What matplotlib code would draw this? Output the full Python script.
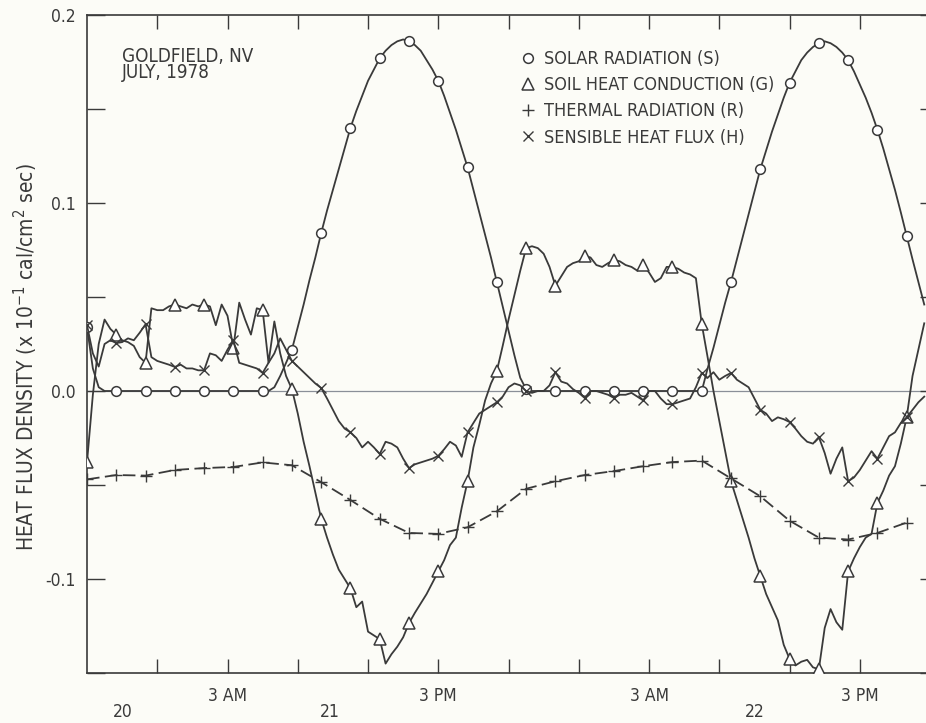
import numpy as np
import matplotlib
matplotlib.use("Agg")
import matplotlib.pyplot as plt
from matplotlib.transforms import blended_transform_factory
from matplotlib.lines import Line2D

plt.rcParams['font.family'] = ['DejaVu Sans']
plt.rcParams['font.stretch'] = 'condensed'
plt.rcParams['mathtext.default'] = 'regular'

# ---- data: hours since midnight of July 21, sampled every 20 minutes ----
t_start = -5.0
step_h = 1.0 / 3.0

solar = [0.034, 0.012, 0.002, 0.0, 0.0, 0.0, 0.0, 0.0, 0.0, 0.0,
         0.0, 0.0, 0.0, 0.0, 0.0, 0.0, 0.0, 0.0, 0.0, 0.0,
         0.0, 0.0, 0.0, 0.0, 0.0, 0.0, 0.0, 0.0, 0.0, 0.0,
         0.0, 0.0, 0.002, 0.008, 0.015, 0.022, 0.034, 0.046, 0.059, 0.071,
         0.084, 0.096, 0.107, 0.118, 0.129, 0.140, 0.149, 0.157, 0.165, 0.171,
         0.177, 0.181, 0.184, 0.186, 0.187, 0.186, 0.184, 0.181, 0.176, 0.171,
         0.165, 0.157, 0.148, 0.139, 0.129, 0.119, 0.107, 0.095, 0.083, 0.071,
         0.058, 0.045, 0.032, 0.019, 0.007, 0.001, 0.0, 0.0, 0.0, 0.0,
         0.0, 0.0, 0.0, 0.0, 0.0, 0.0, 0.0, 0.0, 0.0, 0.0,
         0.0, 0.0, 0.0, 0.0, 0.0, 0.0, 0.0, 0.0, 0.0, 0.0,
         0.0, 0.0, 0.0, 0.0, 0.0, 0.0, 0.012, 0.023, 0.035, 0.047,
         0.058, 0.070, 0.082, 0.094, 0.106, 0.118, 0.128, 0.138, 0.147, 0.156,
         0.164, 0.170, 0.176, 0.180, 0.183, 0.185, 0.186, 0.185, 0.183, 0.180,
         0.176, 0.170, 0.163, 0.156, 0.148, 0.139, 0.129, 0.118, 0.107, 0.095,
         0.0825, 0.070, 0.058, 0.046]

soil = [-0.038, -0.002, 0.025, 0.038, 0.033, 0.030, 0.027, 0.026, 0.024, 0.018,
        0.015, 0.044, 0.043, 0.043, 0.045, 0.046, 0.045, 0.044, 0.046, 0.045,
        0.046, 0.045, 0.035, 0.046, 0.040, 0.023, 0.047, 0.038, 0.030, 0.044,
        0.043, 0.015, 0.037, 0.020, 0.008, 0.001, -0.012, -0.027, -0.040, -0.054,
        -0.068, -0.078, -0.087, -0.095, -0.100, -0.105, -0.115, -0.112, -0.128, -0.130,
        -0.132, -0.145, -0.140, -0.136, -0.131, -0.1235, -0.118, -0.113, -0.108, -0.102,
        -0.096, -0.090, -0.082, -0.078, -0.062, -0.048, -0.030, -0.018, -0.005, 0.004,
        0.0106, 0.024, 0.038, 0.051, 0.064, 0.076, 0.077, 0.076, 0.073, 0.066,
        0.056, 0.061, 0.066, 0.068, 0.069, 0.072, 0.071, 0.067, 0.066, 0.068,
        0.0697, 0.069, 0.067, 0.066, 0.064, 0.067, 0.063, 0.058, 0.060, 0.066,
        0.066, 0.065, 0.063, 0.062, 0.060, 0.0356, 0.018, 0.0, -0.016, -0.032,
        -0.048, -0.058, -0.068, -0.078, -0.089, -0.0985, -0.108, -0.115, -0.122, -0.135,
        -0.1425, -0.146, -0.144, -0.143, -0.147, -0.148, -0.126, -0.116, -0.123, -0.127,
        -0.096, -0.089, -0.083, -0.078, -0.076, -0.0596, -0.053, -0.045, -0.040, -0.028,
        -0.014, 0.008, 0.022, 0.036]

sensible = [0.035, 0.020, 0.013, 0.025, 0.027, 0.0255, 0.026, 0.028, 0.027, 0.031,
            0.0355, 0.018, 0.016, 0.015, 0.014, 0.0128, 0.014, 0.012, 0.012, 0.011,
            0.011, 0.020, 0.019, 0.016, 0.022, 0.027, 0.015, 0.014, 0.013, 0.012,
            0.0096, 0.015, 0.020, 0.028, 0.022, 0.016, 0.013, 0.010, 0.007, 0.004,
            0.0016, -0.004, -0.010, -0.016, -0.020, -0.022, -0.025, -0.030, -0.027, -0.030,
            -0.0335, -0.027, -0.028, -0.030, -0.036, -0.041, -0.039, -0.038, -0.037, -0.036,
            -0.0345, -0.031, -0.027, -0.029, -0.035, -0.022, -0.017, -0.012, -0.010, -0.008,
            -0.006, -0.003, 0.002, 0.004, 0.003, 0.0, -0.001, 0.0, 0.0, 0.003,
            0.010, 0.005, 0.004, 0.001, -0.001, -0.0037, 0.0, 0.0, -0.001, -0.002,
            -0.0037, -0.002, -0.002, -0.001, -0.003, -0.005, 0.0, 0.0, -0.004, -0.007,
            -0.007, -0.006, -0.005, -0.004, 0.002, 0.0096, 0.007, 0.010, 0.006, 0.008,
            0.0096, 0.006, 0.004, 0.002, -0.004, -0.010, -0.012, -0.016, -0.014, -0.015,
            -0.0165, -0.020, -0.024, -0.027, -0.028, -0.0245, -0.033, -0.044, -0.036, -0.030,
            -0.048, -0.046, -0.042, -0.037, -0.032, -0.036, -0.030, -0.024, -0.022, -0.017,
            -0.014, -0.010, -0.006, -0.003]

# thermal radiation read at the marker times (every 100 minutes)
thermal_step_h = 5.0 / 3.0
thermal = [-0.047, -0.0447, -0.045, -0.042, -0.041, -0.0404, -0.038, -0.0395, -0.0485, -0.058,
           -0.068, -0.0755, -0.076, -0.0725, -0.064, -0.052, -0.048, -0.0447, -0.0426, -0.040,
           -0.0378, -0.037, -0.0465, -0.056, -0.069, -0.078, -0.079, -0.0755, -0.070]

tick_hours = [-1, 3, 7, 11, 15, 19, 23, 27, 31, 35, 39, 43]
tick_labels = ['', '3 AM', '', '', '3 PM', '', '', '3 AM', '', '', '3 PM', '']
day_labels = ['20', '21', '22']
day_hours = [-2.95, 8.8, 33.0]

legend_labels = ['SOLAR RADIATION (S)', 'SOIL HEAT CONDUCTION (G)',
                 'THERMAL RADIATION (R)', 'SENSIBLE HEAT FLUX (H)']

# ---- figure ----
bg = '#fcfcf7'
ink = '#3a3a3a'
fs = 12.5
fig = plt.figure(figsize=(9.26, 7.23), dpi=100, facecolor=bg)
ax = fig.add_axes([87 / 926, 50 / 723, 851 / 926, 658 / 723])
ax.set_facecolor(bg)

t_s = t_start + step_h * np.arange(len(solar))
t_g = t_start + step_h * np.arange(len(soil))
t_h = t_start + step_h * np.arange(len(sensible))
t_r = t_start + thermal_step_h * np.arange(len(thermal))

ax.axhline(0.0, color='#8a8f98', lw=0.9, zorder=1)

lw = 1.3
ax.plot(t_s, solar, '-', color=ink, lw=lw, marker='o', markevery=5, ms=7,
        mfc='white', mec=ink, mew=1.1, zorder=3)
ax.plot(t_g, soil, '-', color=ink, lw=lw, marker='^', markevery=5, ms=8.5,
        mfc='white', mec=ink, mew=1.1, zorder=3)
ax.plot(t_h, sensible, '-', color=ink, lw=lw, marker='x', markevery=5, ms=7.5,
        mec=ink, mew=1.0, zorder=3)
ax.plot(t_r, thermal, color=ink, lw=lw, ls=(0, (7, 3)), marker='+', ms=9,
        mec=ink, mew=1.0, zorder=3)

ax.set_xlim(-5.0, 43.45)
ax.set_ylim(-0.15, 0.2)

ax.set_xticks(tick_hours)
ax.set_xticklabels(tick_labels)
ax.set_yticks([-0.1, 0.0, 0.1, 0.2])
ax.set_yticklabels(['-0.1', '0.0', '0.1', '0.2'])
ax.set_yticks([-0.15, -0.05, 0.05, 0.15], minor=True)
ax.tick_params(axis='both', which='both', direction='in', colors=ink,
               labelsize=fs, top=True, right=True)
ax.tick_params(axis='y', which='both', length=13, width=1.0, pad=8)
ax.tick_params(axis='x', which='major', length=10, width=1.0, pad=10)
for s in ax.spines.values():
    s.set_color(ink)
    s.set_linewidth(1.2)

ax.set_ylabel('HEAT FLUX DENSITY (x 10$^{-1}$ cal/cm$^{2}$ sec)', fontsize=15,
              color=ink)
ax.yaxis.set_label_coords(-(87 - 40) / 851, 0.48)

trans = blended_transform_factory(ax.transData, fig.transFigure)
for lab, h in zip(day_labels, day_hours):
    ax.text(h, 11 / 723, lab, transform=trans, ha='center', va='center',
            fontsize=fs, color=ink)

ax.text(122 / 926, 1 - 47 / 723, 'GOLDFIELD, NV\nJULY, 1978', transform=fig.transFigure,
        ha='left', va='top', fontsize=13.5, color=ink, linespacing=0.8)

# legend drawn with marker-only handles, as in the original
handles = [Line2D([], [], ls='none', marker='o', ms=7, mfc='white', mec=ink, mew=1.1),
           Line2D([], [], ls='none', marker='^', ms=8.5, mfc='white', mec=ink, mew=1.1),
           Line2D([], [], ls='none', marker='+', ms=9, mec=ink, mew=1.0),
           Line2D([], [], ls='none', marker='x', ms=7.5, mec=ink, mew=1.0)]
leg = ax.legend(handles, legend_labels, loc='upper left',
                bbox_to_anchor=((510 - 87) / 851, 1 - 28 / 658),
                frameon=False, fontsize=13, handletextpad=0.3,
                handlelength=1.2, labelspacing=0.45, borderaxespad=0)
for txt in leg.get_texts():
    txt.set_color(ink)

fig.savefig('out.png', dpi=100, facecolor=bg)
